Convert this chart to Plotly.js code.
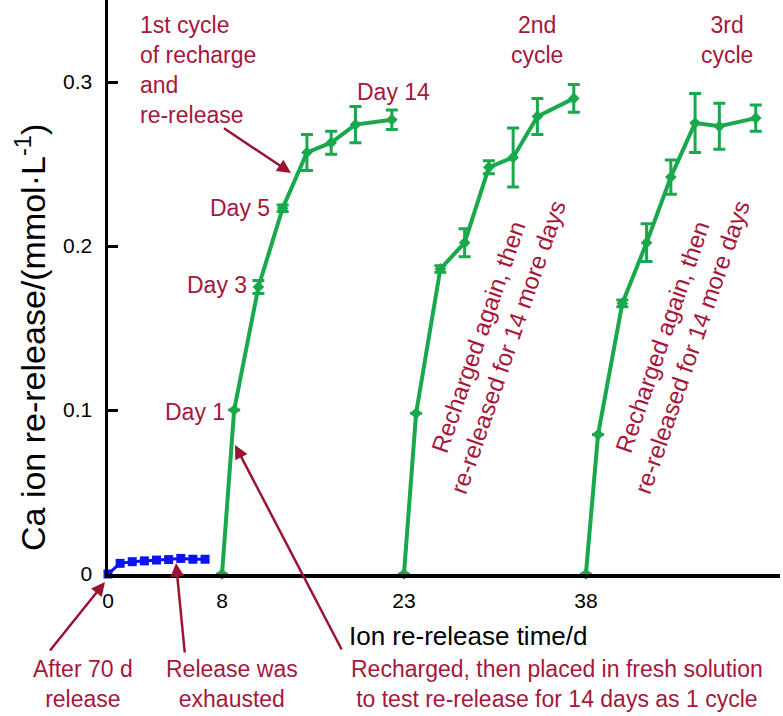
<!DOCTYPE html>
<html>
<head>
<meta charset="utf-8">
<script src="https://cdn.plot.ly/plotly-3.0.1.min.js"></script>
<style>html,body{margin:0;padding:0;background:#fff;}#chart{width:783px;height:716px;}</style>
</head>
<body>
<div id="chart"></div>
<script>
// ---- data ----
const releaseDay = [0, 1, 2, 3, 4, 5, 6, 7, 8];
const releaseCa  = [0, 0.0065, 0.0075, 0.008, 0.0085, 0.0088, 0.0095, 0.009, 0.009];
const cycleDay   = [0, 1, 3, 5, 7, 9, 11, 14];
const cycleStart = [9.4, 24.4, 39.4];           // axis position of day 0 of each cycle
const cycle1Ca   = [0, 0.100, 0.175, 0.223, 0.257, 0.263, 0.274, 0.277];
const cycle1Err  = [0, 0, 0.004, 0.002, 0.011, 0.007, 0.011, 0.006];
const cycle2Ca   = [0, 0.098, 0.186, 0.202, 0.248, 0.254, 0.279, 0.290];
const cycle2Err  = [0, 0, 0.002, 0.0085, 0.004, 0.018, 0.011, 0.0085];
const cycle3Ca   = [0, 0.085, 0.165, 0.202, 0.242, 0.275, 0.273, 0.278];
const cycle3Err  = [0, 0, 0.002, 0.0115, 0.0105, 0.018, 0.014, 0.008];
const xTickText  = ['0', '8', '23', '38'];
const yTickVals  = [0, 0.1, 0.2, 0.3];
const yTickText  = ['0', '0.1', '0.2', '0.3'];

// ---- styles ----
const GREEN = '#19a84b';
const BLUE = '#0a14f0';
const RED = '#a5183c';
const FONT = 'Liberation Sans, Arial, sans-serif';
const W = 783, H = 716, ML = 108, MR = 3, MT = 0, MB = 142;
const PW = W - ML - MR, PH = H - MT - MB;
const px = v => (v - ML) / PW;
const py = v => (H - MB - v) / PH;

const cycles = [cycle1Ca, cycle2Ca, cycle3Ca];
const errs = [cycle1Err, cycle2Err, cycle3Err];

const traces = [{
  x: releaseDay, y: releaseCa, type: 'scatter', mode: 'lines+markers',
  line: {color: BLUE, width: 3}, marker: {symbol: 'square', size: 9, color: BLUE},
  cliponaxis: false, hoverinfo: 'skip'
}];
cycles.forEach((c, i) => {
  traces.push({
    x: cycleDay.map(d => d + cycleStart[i]), y: c, type: 'scatter', mode: 'lines+markers',
    line: {color: GREEN, width: 4}, marker: {symbol: 'diamond', size: 9, color: GREEN},
    error_y: {type: 'data', array: errs[i], visible: true, color: GREEN, thickness: 3, width: 6},
    cliponaxis: false, hoverinfo: 'skip'
  });
});

const tf = (s) => ({family: FONT, size: s || 23, color: RED});
const ann = [];
function txt(text, x, y, xanchor, opts) {
  ann.push(Object.assign({text: text, xref: 'paper', yref: 'paper', x: px(x), y: py(y),
    xanchor: xanchor || 'center', yanchor: 'middle', showarrow: false, font: tf(), align: 'center'}, opts || {}));
}
function arrow(tipX, tipY, ax, ay) {
  ann.push({text: ' ', xref: 'paper', yref: 'paper', x: px(tipX), y: py(tipY), ax: ax, ay: ay,
    showarrow: true, arrowhead: 2, arrowsize: 1.1, arrowwidth: 2.5, arrowcolor: '#9b1432', standoff: 0,
    font: {size: 2}});
}

txt('1st cycle<br>of recharge<br>and<br>re-release', 138, 70, 'left', {align: 'left'});
txt('Day 14', 393, 92);
txt('Day 5', 272, 208, 'right');
txt('Day 3', 249, 285, 'right');
txt('Day 1', 227, 412, 'right');
txt('2nd<br>cycle', 537, 40);
txt('3rd<br>cycle', 727, 40);
txt('Recharged again, then<br>re-released for 14 more days', 493, 342, 'center', {textangle: -71, font: tf(24)});
txt('Recharged again, then<br>re-released for 14 more days', 677, 342, 'center', {textangle: -71, font: tf(24)});
txt('After 70 d<br>release', 83, 684);
txt('Release was<br>exhausted', 232, 684);
txt('Recharged, then placed in fresh solution<br>to test re-release for 14 days as 1 cycle', 557, 684);
txt('Ion re-release time/d', 347, 636, 'left', {font: {family: FONT, size: 26, color: '#000'}});
txt('Ca ion re-release/(mmol·L<sup>-1</sup>)', 30, 338, 'center', {textangle: -90, font: {family: FONT, size: 34, color: '#000'}});

arrow(291, 173, -69, -46);
arrow(235, 445, 108, 207);
arrow(105, 582, -57, 71);
arrow(176, 563, 9, 92);

const layout = {
  width: W, height: H,
  margin: {l: ML, r: MR, t: MT, b: MB, pad: 0},
  paper_bgcolor: '#fff', plot_bgcolor: '#fff',
  showlegend: false,
  font: {family: FONT, size: 20, color: '#000'},
  xaxis: {
    range: [0, PW / 12.13], showgrid: false, zeroline: false,
    showline: true, linecolor: '#000', linewidth: 3.5,
    ticks: '', tickvals: [0].concat(cycleStart), ticktext: xTickText,
    tickfont: {family: FONT, size: 21, color: '#000'}, ticklabelstandoff: 5
  },
  yaxis: {
    range: [0, PH / 1640], showgrid: false, zeroline: false,
    showline: true, linecolor: '#000', linewidth: 3.5,
    ticks: 'inside', ticklen: 10, tickwidth: 3, tickcolor: '#000',
    tickvals: yTickVals, ticktext: yTickText,
    tickfont: {family: FONT, size: 21, color: '#000'}, ticklabelstandoff: 8
  },
  annotations: ann
};

Plotly.newPlot('chart', traces, layout, {displayModeBar: false, staticPlot: true});
</script>
</body>
</html>
